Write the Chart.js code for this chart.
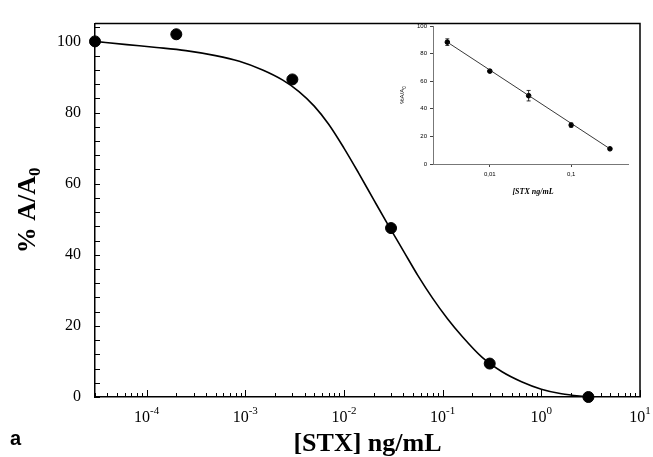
<!DOCTYPE html>
<html>
<head>
<meta charset="utf-8">
<script src="https://cdn.jsdelivr.net/npm/chart.js@4.4.1/dist/chart.umd.min.js"></script>
<style>
html, body { margin: 0; padding: 0; background: #fff; }
#wrap { position: relative; width: 653px; height: 457px; }
#main { position: absolute; left: 0; top: 0; }
#insetBox { position: absolute; left: 380px; top: 10px; width: 260px; height: 200px; }
</style>
</head>
<body>
<div id="wrap">
  <canvas id="main" width="653" height="457"></canvas>
  <div id="insetBox"><canvas id="inset" width="260" height="200"></canvas></div>
</div>
<script>
// main panel: measured points
const concX = [3e-5, 2e-4, 3e-3, 3e-2, 0.3, 3];
const pctA = [100, 102, 89.3, 47.5, 9.4, 0];
// fitted curve
const fitX = [3e-5, 6.3e-5, 1.26e-4, 2.5e-4, 5e-4, 8.7e-4, 1.5e-3, 2.4e-3, 3.5e-3, 5e-3, 7e-3, 0.01, 0.014, 0.02, 0.028, 0.04, 0.056, 0.079, 0.112, 0.158, 0.25, 0.4, 0.63, 1, 1.6, 3];
const fitY = [100, 99.1, 98.3, 97.4, 96.0, 94.4, 91.95, 89.1, 85.9, 81.8, 76.7, 70.0, 63.1, 55.5, 48.4, 41.1, 34.2, 27.8, 22, 17, 11.2, 7.1, 4.3, 2.2, 0.9, 0];
const yTicks = [0, 20, 40, 60, 80, 100];
const xDecades = [-4, -3, -2, -1, 0, 1];

// inset: linear range
const insetX = [0.003, 0.01, 0.03, 0.1, 0.3];
const insetY = [88.3, 67.3, 49.5, 28.2, 11];
const insetErr = [2.4, 0.7, 3.8, 1.5, 0.6];
const insetFitX = [0.003, 0.3];
const insetFitY = [88.3, 11];
const insetYTicks = [0, 20, 40, 60, 80, 100];
const insetXTicks = [0.01, 0.1];

const SERIF = '"Liberation Serif", "Times New Roman", serif';
const SANS = '"Liberation Sans", Arial, sans-serif';

const toXY = (xs, ys) => xs.map((x, i) => ({ x: x, y: ys[i] }));

// inward ticks, frame and the labels with sub/superscripts
const mainDecor = {
  id: 'mainDecor',
  afterDraw(chart) {
    const { ctx, chartArea: a, scales: { x, y } } = chart;
    ctx.save();
    ctx.strokeStyle = '#000';
    ctx.lineWidth = 1.5;
    ctx.beginPath();
    ctx.moveTo(a.left, a.top); ctx.lineTo(a.right, a.top); ctx.lineTo(a.right, a.bottom);
    ctx.stroke();

    ctx.lineWidth = 1;
    ctx.beginPath();
    for (let v = 0; v <= y.max; v += 4) {
      const py = Math.round(y.getPixelForValue(v)) + 0.5;
      ctx.moveTo(a.left, py); ctx.lineTo(a.left + 5, py);
    }
    for (let d = -5; d <= 1; d++) {
      for (let m = 1; m <= 9; m++) {
        const v = m * Math.pow(10, d);
        if (v < x.min || v > x.max) continue;
        const px = Math.round(x.getPixelForValue(v)) + 0.5;
        ctx.moveTo(px, a.bottom); ctx.lineTo(px, a.bottom - (m === 1 ? 7 : 4));
      }
    }
    ctx.stroke();

    // x tick labels 10^n
    ctx.fillStyle = '#000';
    ctx.textBaseline = 'alphabetic';
    xDecades.forEach(d => {
      const px = x.getPixelForValue(Math.pow(10, d));
      ctx.font = '16px ' + SERIF;
      const w1 = ctx.measureText('10').width;
      ctx.font = '11px ' + SERIF;
      const ex = d < 0 ? '-' + (-d) : String(d);
      const w2 = ctx.measureText(ex).width;
      const x0 = px - (w1 + w2) / 2;
      ctx.font = '16px ' + SERIF;
      ctx.textAlign = 'left';
      ctx.fillText('10', x0, 422);
      ctx.font = '11px ' + SERIF;
      ctx.fillText(ex, x0 + w1, 414);
    });

    // x title
    ctx.font = 'bold 26px ' + SERIF;
    ctx.textAlign = 'center';
    ctx.fillText('[STX] ng/mL', (a.left + a.right) / 2, 451);

    // y title, rotated, with subscript
    ctx.save();
    ctx.translate(35, (a.top + a.bottom) / 2);
    ctx.rotate(-Math.PI / 2);
    ctx.font = 'bold 26px ' + SERIF;
    const t1 = '% A/A';
    const w1 = ctx.measureText(t1).width;
    ctx.font = 'bold 17px ' + SERIF;
    const w2 = ctx.measureText('0').width;
    const sx = -(w1 + w2) / 2;
    ctx.textAlign = 'left';
    ctx.font = 'bold 26px ' + SERIF;
    ctx.fillText(t1, sx, 0);
    ctx.font = 'bold 17px ' + SERIF;
    ctx.fillText('0', sx + w1, 5);
    ctx.restore();

    // panel letter
    ctx.font = 'bold 20px ' + SANS;
    ctx.textAlign = 'left';
    ctx.fillText('a', 10, 445);
    ctx.restore();
  }
};

new Chart(document.getElementById('main'), {
  data: {
    datasets: [
      {
        type: 'line',
        data: toXY(fitX, fitY),
        borderColor: '#000',
        borderWidth: 1.6,
        pointRadius: 0,
        cubicInterpolationMode: 'monotone',
        clip: false
      },
      {
        type: 'scatter',
        data: toXY(concX, pctA),
        backgroundColor: '#000',
        borderColor: '#000',
        pointRadius: 5.5,
        clip: false
      }
    ]
  },
  options: {
    responsive: false,
    animation: false,
    layout: { padding: { top: 13, right: 13, left: 0, bottom: 0 } },
    plugins: { legend: { display: false }, tooltip: { enabled: false } },
    scales: {
      x: {
        type: 'logarithmic',
        min: 3e-5,
        max: 10,
        ticks: { display: false },
        grid: { display: false, drawTicks: false },
        border: { display: true, color: '#000', width: 1.5 },
        afterFit: s => { s.height = 60; }
      },
      y: {
        min: 0,
        max: 105,
        afterBuildTicks: s => { s.ticks = yTicks.map(v => ({ value: v })); },
        ticks: { color: '#000', font: { family: SERIF, size: 16 }, padding: 14 },
        grid: { display: false, drawTicks: false },
        border: { display: true, color: '#000', width: 1.5 },
        afterFit: s => { s.width = 95; }
      }
    }
  },
  plugins: [mainDecor]
});

// inset: error bars and titles
const insetDecor = {
  id: 'insetDecor',
  afterDatasetsDraw(chart) {
    const { ctx, chartArea: a, scales: { x, y } } = chart;
    ctx.save();
    ctx.strokeStyle = '#000';
    ctx.lineWidth = 0.8;
    ctx.beginPath();
    insetX.forEach((v, i) => {
      const px = x.getPixelForValue(v);
      const lo = y.getPixelForValue(insetY[i] - insetErr[i]);
      const hi = y.getPixelForValue(insetY[i] + insetErr[i]);
      ctx.moveTo(px, lo); ctx.lineTo(px, hi);
      ctx.moveTo(px - 2, lo); ctx.lineTo(px + 2, lo);
      ctx.moveTo(px - 2, hi); ctx.lineTo(px + 2, hi);
    });
    ctx.stroke();

    ctx.fillStyle = '#000';
    ctx.font = 'bold italic 8px ' + SERIF;
    ctx.textAlign = 'center';
    ctx.textBaseline = 'middle';
    ctx.fillText('[STX ng/mL', 153, 182);

    ctx.translate(22, (a.top + a.bottom) / 2);
    ctx.rotate(-Math.PI / 2);
    ctx.font = '6px ' + SANS;
    const w1 = ctx.measureText('%A/A').width;
    ctx.font = '4.5px ' + SANS;
    const w2 = ctx.measureText('0').width;
    ctx.textAlign = 'left';
    ctx.textBaseline = 'alphabetic';
    ctx.font = '6px ' + SANS;
    ctx.fillText('%A/A', -(w1 + w2) / 2, 2);
    ctx.font = '4.5px ' + SANS;
    ctx.fillText('0', -(w1 + w2) / 2 + w1, 3.5);
    ctx.restore();
  }
};

new Chart(document.getElementById('inset'), {
  data: {
    datasets: [
      {
        type: 'line',
        data: toXY(insetFitX, insetFitY),
        borderColor: '#222',
        borderWidth: 0.9,
        pointRadius: 0
      },
      {
        type: 'scatter',
        data: toXY(insetX, insetY),
        backgroundColor: '#000',
        borderColor: '#000',
        pointRadius: 2.3,
        clip: false
      }
    ]
  },
  options: {
    responsive: false,
    animation: false,
    layout: { padding: { top: 16, right: 12, left: 0, bottom: 0 } },
    plugins: { legend: { display: false }, tooltip: { enabled: false } },
    scales: {
      x: {
        type: 'logarithmic',
        min: 0.002,
        max: 0.5,
        afterBuildTicks: s => { s.ticks = insetXTicks.map(v => ({ value: v })); },
        ticks: {
          color: '#000',
          font: { family: SANS, size: 6 },
          padding: 4,
          maxRotation: 0,
          callback: v => String(v).replace('.', ',')
        },
        grid: { drawOnChartArea: false, drawTicks: true, tickLength: 3, color: '#444' },
        border: { display: true, color: '#777', width: 1 },
        afterFit: s => { s.height = 46; }
      },
      y: {
        min: 0,
        max: 100,
        afterBuildTicks: s => { s.ticks = insetYTicks.map(v => ({ value: v })); },
        ticks: { color: '#000', font: { family: SANS, size: 6 }, padding: 3 },
        grid: { drawOnChartArea: false, drawTicks: true, tickLength: 3, color: '#444' },
        border: { display: true, color: '#777', width: 1 },
        afterFit: s => { s.width = 53; }
      }
    }
  },
  plugins: [insetDecor]
});
</script>
</body>
</html>
